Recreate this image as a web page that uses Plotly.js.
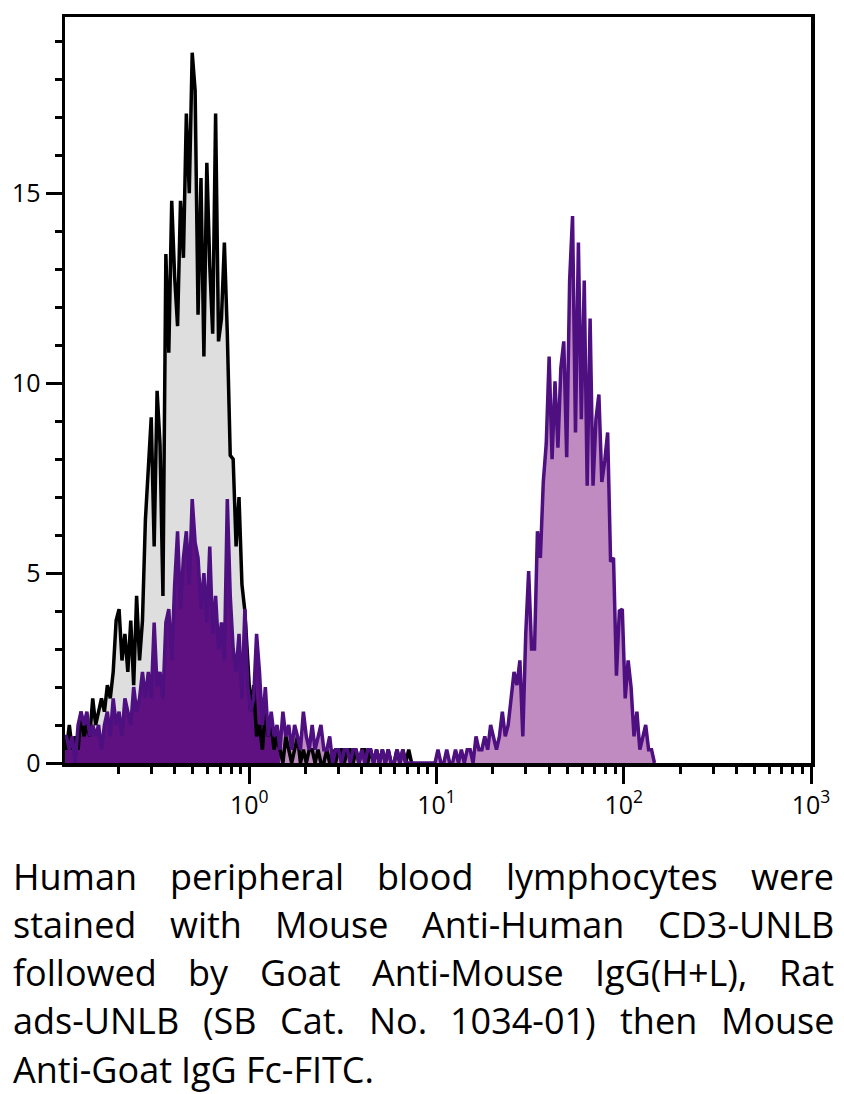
<!DOCTYPE html>
<html><head><meta charset="utf-8">
<script src="https://cdn.plot.ly/plotly-3.0.1.min.js"></script>
<style>html,body{margin:0;padding:0;background:#fff}#chart{width:844px;height:1094px}</style>
</head><body><div id="chart"></div>
<script>
// Histogram channels: 64 channels per decade, channel 0 starts at 10^-1
const binsPerDecade = 64;
const logStart = -1;

// Control (unstained) histogram, channels 0..119
const controlCounts = [
  0.7,0.35,1.0,0.35,0.7,0.35,1.35,0.7,1.0,0.7,
  1.7,1.0,1.35,1.7,1.35,2.05,1.7,2.4,3.75,4.05,
  2.7,3.4,2.4,3.75,2.05,4.4,2.7,3.75,6.4,7.8,
  9.1,5.7,9.8,8.4,4.4,13.4,10.8,14.8,12.8,11.5,
  14.8,13.3,17.1,15.0,18.7,17.7,11.8,15.4,10.7,15.8,
  13.1,11.3,17.1,11.1,11.7,13.7,11.3,8.1,8.0,5.7,
  7.0,4.7,4.0,2.7,1.35,2.05,0.7,1.0,0.35,1.35,
  0.7,1.0,0.35,0.7,0.35,0,0.7,0.35,0,0.35,
  0.7,0,0.35,0,0.35,0.35,0,0.35,0,0,
  0.35,0,0.35,0,0.35,0.35,0,0.35,0.35,0,
  0.35,0,0.35,0.35,0,0.35,0,0.35,0,0.35,
  0,0.35,0,0,0.35,0,0.35,0,0.35,0
];

// Stained sample histogram, channels 0..202
const stainedCounts = [
  0.7,0.7,0.35,0.7,0,1.0,1.35,1.0,1.35,0.7,
  1.0,0.7,1.0,0.35,1.0,1.35,0.7,1.7,1.0,1.35,
  0.7,1.7,1.35,1.0,2.0,1.35,1.7,2.4,1.7,2.4,
  1.7,3.7,2.0,2.4,1.7,3.7,4.05,2.7,4.7,6.1,
  4.05,5.4,6.1,4.7,6.95,5.8,5.4,4.05,5.0,3.7,
  5.7,3.4,4.4,3.0,3.7,2.7,6.95,4.4,3.0,2.4,
  3.4,1.7,4.05,2.0,1.35,1.7,3.4,2.4,1.0,2.0,
  0.7,1.35,0.7,1.0,0.35,1.35,0.7,1.0,0.35,1.0,
  0.7,0.35,1.35,0.7,0.35,1.0,0.35,0.7,1.0,0.35,
  0.35,0.7,0,0.35,0.35,0,0.35,0.35,0,0.35,
  0.35,0,0.35,0,0.35,0.35,0,0.35,0,0.35,
  0,0.35,0,0,0.35,0,0.35,0,0,0,
  0,0,0,0,0,0,0,0,0.35,0,
  0,0.35,0,0,0.35,0,0.35,0,0.35,0.35,
  0,0.7,0.35,0.35,0.7,0.35,1.0,0.7,0.35,0.7,
  1.35,0.7,1.0,1.7,2.4,2.05,2.7,0.7,3.4,5.05,
  3.0,3.0,6.1,5.4,7.4,8.4,10.7,8.0,10.05,8.3,
  10.4,11.1,8.05,12.7,14.4,8.7,13.7,9.05,12.7,7.3,
  11.7,7.3,9.05,9.7,7.4,7.95,8.7,5.3,5.4,2.3,
  4.0,4.05,1.7,2.7,2.0,0.7,1.35,0.35,0.7,1.0,
  0.35,0.35,0
];
const negativeEndChannel = 74; // fill colour changes here

const xTickVals = [1, 10, 100, 1000];
const xTickText = ['10<sup>0</sup>', '10<sup>1</sup>', '10<sup>2</sup>', '10<sup>3</sup>'];
const xMinorVals = [0.2,0.3,0.4,0.5,0.6,0.7,0.8,0.9,2,3,4,5,6,7,8,9,20,30,40,50,60,70,80,90,200,300,400,500,600,700,800,900];
const yTickVals = [0, 5, 10, 15];

const captionLines = [
  'Human peripheral blood lymphocytes were',
  'stained with Mouse Anti-Human CD3-UNLB',
  'followed by Goat Anti-Mouse IgG(H+L), Rat',
  'ads-UNLB (SB Cat. No. 1034-01) then Mouse',
  'Anti-Goat IgG Fc-FITC.'
];

function chX(c) { return Math.pow(10, logStart + (c + 0.5) / binsPerDecade); }
const ctrlX = controlCounts.map((v, i) => chX(i));
const stX = stainedCounts.map((v, i) => chX(i));

const GRAY = '#dedede', DARKP = '#5f1182', MAUVE = '#c08bc0', LINEP = '#4e0f80';

const traces = [
  {x: ctrlX, y: controlCounts, mode: 'none', fill: 'tozeroy', fillcolor: GRAY, hoverinfo: 'skip'},
  {x: stX.slice(0, negativeEndChannel + 1), y: stainedCounts.slice(0, negativeEndChannel + 1),
   mode: 'none', fill: 'tozeroy', fillcolor: DARKP, hoverinfo: 'skip'},
  {x: stX.slice(negativeEndChannel), y: stainedCounts.slice(negativeEndChannel),
   mode: 'none', fill: 'tozeroy', fillcolor: MAUVE, hoverinfo: 'skip'},
  {x: ctrlX, y: controlCounts, mode: 'lines', line: {color: '#000', width: 3.5}},
  {x: stX, y: stainedCounts, mode: 'lines', line: {color: LINEP, width: 3.5}}
];

// Caption layout (justified lines)
const W = 844, H = 1094;
const M = {l: 65, r: 33, t: 17, b: 331};
const PW = W - M.l - M.r, PH = H - M.t - M.b;
const capFont = 'Open Sans', capSize = 36;
const capLeft = 12, capRight = 833, capY0 = 876, capDY = 48.3;
const cv = document.createElement('canvas').getContext('2d');
cv.font = capSize + 'px "' + capFont + '"';
const annotations = [];
captionLines.forEach((line, li) => {
  const words = line.split(' ');
  const widths = words.map(w => cv.measureText(w).width);
  const total = widths.reduce((a, b) => a + b, 0);
  const justify = li < captionLines.length - 1;
  const gap = justify ? (capRight - capLeft - total) / (words.length - 1) : cv.measureText(' ').width;
  let px = capLeft;
  const py = capY0 + li * capDY;
  words.forEach((w, wi) => {
    annotations.push({
      xref: 'paper', yref: 'paper', x: (px - M.l) / PW, y: (H - M.b - py) / PH,
      xanchor: 'left', yanchor: 'middle', text: w, showarrow: false, borderpad: 0,
      font: {family: capFont, size: capSize, color: '#000'}
    });
    px += widths[wi] + gap;
  });
});

const tickFont = {family: 'Open Sans', size: 25, color: '#000'};
const layout = {
  width: W, height: H, margin: M, showlegend: false,
  paper_bgcolor: '#fff', plot_bgcolor: '#fff',
  xaxis: {type: 'log', range: [-0.984, 3.0], tickmode: 'array', tickvals: xTickVals, ticktext: xTickText,
    ticks: 'outside', ticklen: 17, tickwidth: 3, tickcolor: '#000', showgrid: false, zeroline: false,
    showline: true, linewidth: 3.5, linecolor: '#000', mirror: true, tickfont: tickFont,
    minor: {tickmode: 'array', tickvals: xMinorVals, ticks: 'outside', ticklen: 7, tickwidth: 3, tickcolor: '#000', showgrid: false}},
  yaxis: {range: [0, 19.64], tickmode: 'array', tickvals: yTickVals,
    ticks: 'outside', ticklen: 16, tickwidth: 3, tickcolor: '#000', showgrid: false, zeroline: false,
    showline: true, linewidth: 3.5, linecolor: '#000', mirror: true, tickfont: tickFont,
    minor: {dtick: 1, tick0: 0, ticks: 'outside', ticklen: 7, tickwidth: 3, tickcolor: '#000', showgrid: false}},
  annotations: annotations
};

Plotly.newPlot('chart', traces, layout, {staticPlot: true, displayModeBar: false});
</script>
</body></html>
